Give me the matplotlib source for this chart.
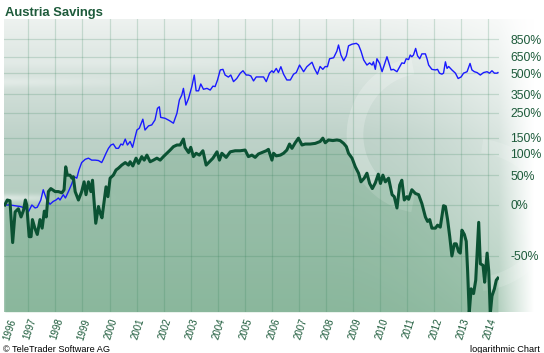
import numpy as np
import matplotlib
matplotlib.use("Agg")
import matplotlib.pyplot as plt
from matplotlib.patches import Arc

# ---------------- data ----------------
savings_years = [1996.13, 1996.22, 1996.32, 1996.42, 1996.51, 1996.63, 1996.73, 1996.82, 1996.89, 1996.94,
                 1997.03, 1997.10, 1997.15, 1997.24, 1997.33, 1997.43, 1997.51, 1997.59, 1997.66, 1997.74,
                 1997.83, 1997.99, 1998.11, 1998.24, 1998.32, 1998.38, 1998.44, 1998.54, 1998.61, 1998.66,
                 1998.73, 1998.85, 1998.97, 1999.06, 1999.13, 1999.22, 1999.31, 1999.37, 1999.49, 1999.59,
                 1999.65, 1999.72, 1999.80, 1999.87, 1999.94, 2000.02, 2000.14, 2000.24, 2000.33, 2000.45,
                 2000.58, 2000.70, 2000.76, 2000.86, 2000.98, 2001.07, 2001.19, 2001.28, 2001.38, 2001.50,
                 2001.62, 2001.75, 2001.87, 2001.99, 2002.12, 2002.24, 2002.36, 2002.49, 2002.61, 2002.73,
                 2002.79, 2002.92, 2003.00, 2003.10, 2003.20, 2003.32, 2003.45, 2003.57, 2003.69, 2003.82,
                 2003.97, 2004.06, 2004.15, 2004.31, 2004.46, 2004.64, 2004.83, 2005.01, 2005.13, 2005.26,
                 2005.38, 2005.50, 2005.63, 2005.79, 2005.87, 2006.00, 2006.06, 2006.16, 2006.31, 2006.43,
                 2006.55, 2006.65, 2006.74, 2006.86, 2006.98, 2007.11, 2007.23, 2007.41, 2007.60, 2007.78,
                 2007.88, 2007.97, 2008.09, 2008.25, 2008.40, 2008.52, 2008.65, 2008.75, 2008.83, 2008.96,
                 2009.08, 2009.20, 2009.29, 2009.41, 2009.51, 2009.61, 2009.71, 2009.82, 2009.93, 2010.01,
                 2010.10, 2010.19, 2010.31, 2010.44, 2010.52, 2010.62, 2010.72, 2010.80, 2010.89, 2010.99,
                 2011.05, 2011.17, 2011.30, 2011.42, 2011.54, 2011.67, 2011.75, 2011.83, 2011.91, 2012.04,
                 2012.12, 2012.22, 2012.34, 2012.41, 2012.49, 2012.57, 2012.65, 2012.74, 2012.81, 2012.90,
                 2012.96, 2013.02, 2013.11, 2013.18, 2013.23, 2013.29, 2013.36, 2013.45, 2013.53, 2013.64,
                 2013.70, 2013.80, 2013.86, 2013.95, 2014.01, 2014.07, 2014.13, 2014.22, 2014.29, 2014.35]
savings_pct = [0, 7, 6, -40, -9, -5, -15, -7, 7, 0,
               -35, -35, -18, -27, -33, -18, -27, -8, -15, 20,
               25, 20, 20, 18, 23, 68, 50, 50, 44, 47,
               20, 7, 20, 37, 15, 37, 20, 40, -22, -2,
               -10, -16, 5, 28, 12, 44, 50, 61, 65, 72,
               78, 72, 80, 70, 89, 76, 93, 84, 97, 80,
               84, 89, 84, 93, 102, 111, 121, 126, 126, 145,
               119, 104, 119, 93, 102, 97, 109, 72, 80, 89,
               106, 84, 102, 91, 106, 109, 109, 111, 93, 97,
               91, 100, 104, 109, 113, 84, 102, 95, 97, 102,
               111, 129, 116, 133, 148, 126, 129, 129, 131, 137,
               148, 133, 142, 140, 142, 140, 131, 121, 102, 89,
               68, 54, 37, 44, 54, 34, 25, 35, 52, 34,
               50, 37, 44, 15, 12, -4, 31, 40, 7, 12,
               8, 23, 17, 15, 2, -15, -20, -18, -27, -27,
               -24, -26, -1, -2, -18, -35, -50, -41, -41, -47,
               -48, -29, -33, -39, -59, -77, -68, -70, -64, -21,
               -55, -56, -65, -48, -59, -77, -71, -68, -64, -63]

index_years = [1996.13, 1996.32, 1996.51, 1996.69, 1996.88, 1997.00, 1997.13, 1997.25, 1997.33, 1997.46,
               1997.55, 1997.68, 1997.80, 1997.92, 1998.02, 1998.11, 1998.17, 1998.29, 1998.37, 1998.48,
               1998.61, 1998.69, 1998.79, 1998.87, 1998.97, 1999.10, 1999.22, 1999.34, 1999.47, 1999.59,
               1999.71, 1999.77, 1999.87, 1999.96, 2000.05, 2000.14, 2000.24, 2000.33, 2000.42, 2000.49,
               2000.58, 2000.66, 2000.76, 2000.85, 2000.95, 2001.01, 2001.10, 2001.23, 2001.31, 2001.44,
               2001.56, 2001.68, 2001.77, 2001.84, 2001.89, 2002.05, 2002.21, 2002.36, 2002.49, 2002.58,
               2002.67, 2002.73, 2002.82, 2002.92, 2003.04, 2003.13, 2003.20, 2003.29, 2003.37, 2003.47,
               2003.60, 2003.72, 2003.82, 2003.90, 2003.99, 2004.09, 2004.19, 2004.27, 2004.39, 2004.48,
               2004.58, 2004.70, 2004.83, 2004.93, 2005.05, 2005.13, 2005.22, 2005.32, 2005.42, 2005.54,
               2005.69, 2005.79, 2005.91, 2006.00, 2006.06, 2006.16, 2006.24, 2006.33, 2006.43, 2006.55,
               2006.68, 2006.80, 2006.90, 2007.02, 2007.17, 2007.29, 2007.48, 2007.57, 2007.68, 2007.78,
               2007.88, 2007.97, 2008.05, 2008.13, 2008.28, 2008.40, 2008.46, 2008.55, 2008.65, 2008.75,
               2008.83, 2008.96, 2009.12, 2009.20, 2009.29, 2009.39, 2009.51, 2009.61, 2009.70, 2009.75,
               2009.82, 2009.88, 2009.98, 2010.07, 2010.15, 2010.25, 2010.31, 2010.40, 2010.49, 2010.62,
               2010.72, 2010.80, 2010.89, 2010.96, 2011.05, 2011.11, 2011.17, 2011.23, 2011.31, 2011.38,
               2011.46, 2011.54, 2011.67, 2011.73, 2011.79, 2011.91, 2012.04, 2012.12, 2012.19, 2012.28,
               2012.34, 2012.41, 2012.47, 2012.53, 2012.65, 2012.78, 2012.88, 2012.99, 2013.08, 2013.21,
               2013.32, 2013.39, 2013.48, 2013.58, 2013.70, 2013.82, 2013.95, 2014.04, 2014.13, 2014.22,
               2014.32, 2014.35]
index_pct = [0, 0, -1, -2, -4, -9, 0, -4, -3, 7,
             23, 7, 1, 5, 7, 10, 7, 15, 10, 20,
             34, 47, 44, 61, 78, 86, 89, 84, 84, 83,
             78, 86, 102, 116, 126, 129, 116, 116, 129, 126,
             145, 126, 137, 119, 153, 177, 184, 221, 177, 193,
             197, 218, 272, 280, 229, 225, 215, 204, 248, 317,
             346, 388, 289, 326, 400, 485, 372, 372, 418, 382,
             388, 377, 403, 400, 447, 527, 532, 485, 469, 485,
             435, 458, 500, 520, 485, 485, 478, 440, 470, 470,
             470, 435, 500, 520, 505, 540, 505, 555, 492, 447,
             447, 492, 505, 570, 512, 555, 596, 540, 492, 557,
             532, 557, 555, 630, 640, 710, 780, 668, 610, 660,
             770, 790, 800, 780, 710, 618, 570, 590, 570, 600,
             532, 630, 585, 512, 570, 650, 600, 527, 532, 512,
             555, 590, 585, 630, 622, 668, 650, 668, 740, 660,
             630, 680, 680, 630, 570, 532, 527, 532, 500, 492,
             500, 600, 540, 557, 527, 500, 458, 470, 500, 512,
             585, 527, 512, 505, 485, 505, 512, 500, 520, 500,
             500, 505]

ytick_pct = [850, 650, 500, 350, 250, 150, 100, 50, 0, -50]
ytick_labels = ["850%", "650%", "500%", "350%", "250%", "150%", "100%", "50%", "0%", "-50%"]
xtick_years = list(range(1996, 2015))

title = "Austria Savings"

# ---------------- figure ----------------
plt.rcParams["font.family"] = ["Liberation Sans", "DejaVu Sans"]
W, H = 544, 353
fig = plt.figure(figsize=(W / 100, H / 100), dpi=100)
fig.patch.set_facecolor("white")

# decorative background (gradient like the TeleTrader chart)
yy, xx = np.mgrid[0:H, 0:W] + 0.5
t = np.clip((yy - 19) / 293.0, 0, 1)
top_c = np.array([238, 242, 240], float)
mid_c = np.array([190, 210, 201], float)
bot_c = np.array([160, 196, 175], float)
tt = t[..., None]
base = np.where(tt < 0.4, top_c + (mid_c - top_c) * (tt / 0.4),
                mid_c + (bot_c - mid_c) * ((tt - 0.4) / 0.6))
def band(y0, sig, x0, x1, s):
    h = np.exp(-((yy - y0) / sig) ** 2)
    fx = np.clip((x1 - xx) / (x1 - x0), 0, 1)
    return s * h * fx
streak = band(82, 5, 0, 170, 0.35) + band(198, 4, 0, 120, 0.55) + band(62, 6, 150, 330, 0.18)
w1 = 0.85 * np.clip((xx - 330) / 214.0, 0, 1) ** 1.8 * (1 - 0.65 * t)
w2 = np.clip((xx - 499) / 35.0, 0, 1)
w = 1 - (1 - w1) * (1 - w2) * (1 - np.clip(streak, 0, 1))
img = base * (1 - w[..., None]) + 255 * w[..., None]
inside = (xx >= 4) & (yy >= 19) & (yy <= 312)
img[~inside] = 255
bg = fig.add_axes([0, 0, 1, 1], zorder=-5)
bg.imshow(img.astype(np.uint8), extent=(0, W, H, 0), aspect="auto", interpolation="bilinear")
bg.set_xlim(0, W); bg.set_ylim(H, 0)
bg.axis("off")
# faint logo swoosh
for (cx, cy, ww, hh, a1, a2, lw, al) in [(425, 135, 140, 140, 100, 260, 12, 0.22),
                                          (470, 215, 160, 140, 280, 80, 10, 0.15)]:
    bg.add_patch(Arc((cx, cy), ww, hh, theta1=a1, theta2=a2, lw=lw, color="white", alpha=al))

# main axes
ax = fig.add_axes([4 / W, 41 / H, 495 / W, 293 / H])
ax.patch.set_alpha(0)
for s in ax.spines.values():
    s.set_visible(False)

sav_v = 1 + np.array(savings_pct) / 100.0
idx_v = 1 + np.array(index_pct) / 100.0

ax.set_yscale("log")
ylo, yhi = 0.2335, 12.53
ax.set_ylim(ylo, yhi)
ax.set_xlim(1996.10, 2014.39)

ax.fill_between(savings_years, sav_v, ylo, color="#3d8a5b", alpha=0.22, lw=0, zorder=1)
ax.plot(index_years, idx_v, color="#1a1aff", lw=1.0, zorder=3)
ax.plot(savings_years, sav_v, color="#0b5233", lw=2.2, zorder=4, solid_joinstyle="round")

# grid
ax.set_axisbelow(False)
ax.set_xticks([y for y in xtick_years if y > 1996])
ax.set_xticklabels([])
ax.set_yticks([1 + p / 100.0 for p in ytick_pct])
ax.yaxis.set_minor_locator(matplotlib.ticker.NullLocator())
ax.set_yticklabels(ytick_labels)
ax.yaxis.tick_right()
ax.tick_params(axis="both", length=0)
ax.tick_params(axis="y", pad=8, labelsize=8.8, labelcolor="#1c5a3a")
ax.grid(True, color="#2e7d55", alpha=0.2, lw=0.9)

# rotated year labels
trans = matplotlib.transforms.blended_transform_factory(ax.transData, ax.transAxes)
for yr in xtick_years:
    xpos = max(yr + 0.06, 1996.30)
    ax.text(xpos, -0.018, str(yr), transform=trans, rotation=72, ha="center", va="top",
            fontsize=7.0, color="#1c5a3a", clip_on=False)

fig.text(5 / W, 1 - 16 / H, title, fontsize=9.4, fontweight="bold", color="#1d5a3a")
fig.text(3 / W, 1 - 352 / H, "\u00a9 TeleTrader Software AG", fontsize=6.6, color="black")
fig.text(540 / W, 1 - 352 / H, "logarithmic Chart", fontsize=6.6, color="black", ha="right")

fig.savefig("out.png", dpi=100)
